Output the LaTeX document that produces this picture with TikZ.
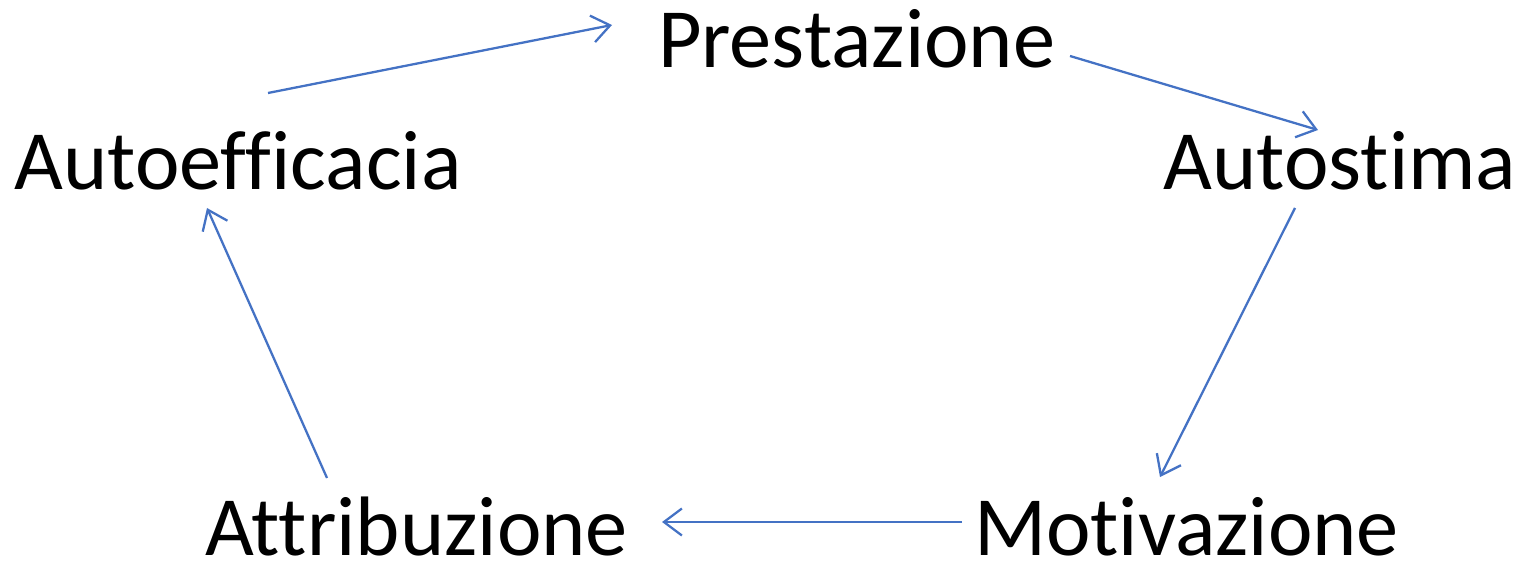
\documentclass[tikz,border=0pt]{standalone}
\usepackage{fontspec}
\setmainfont{Carlito}[Ligatures=NoCommon]
\usetikzlibrary{arrows.meta,positioning}

\begin{document}
\begin{tikzpicture}[every word/.style = {},
                    word/.style = {anchor=base, inner sep=0pt, font=\fontsize{48}{57}\selectfont, every word},
                    cyclearrow/.style = {draw={rgb,255:red,68;green,114;blue,196}, line width=1.3pt,
                                         -{Straight Barb[length=3.6mm, width=5.4mm, line width=1.3pt]}}]
                % frame
                \useasboundingbox (0,0) rectangle (30.5,11.28);
                % top
                \node at (17.13,9.92) [word] (prest) {Prestazione};
                % sides
                \node at (4.76,7.48) [word] (autoeff) {Autoefficacia};
                \node at (26.8,7.48) [word] (autost) {Autostima};
                % bottom
                \node at (8.33,0.18) [word] (attr) {Attribuzione};
                \node at (23.73,0.18) [word] (motiv) {Motivazione};
                % cycle
                \draw[cyclearrow] ([shift={(0.6,1.94)}]autoeff.base) -- ([shift={(-4.89,0.86)}]prest.base);
                \draw[cyclearrow] ([shift={(4.27,0.24)}]prest.base) -- ([shift={(-0.44,1.2)}]autost.base);
                \draw[cyclearrow] ([shift={(-0.9,-0.36)}]autost.base) -- ([shift={(-0.53,1.56)}]motiv.base);
                \draw[cyclearrow] ([shift={(-4.49,0.66)}]motiv.base) -- ([shift={(4.91,0.66)}]attr.base);
                \draw[cyclearrow] ([shift={(-1.79,1.54)}]attr.base) -- ([shift={(-0.62,-0.36)}]autoeff.base);
\end{tikzpicture}
\end{document}
